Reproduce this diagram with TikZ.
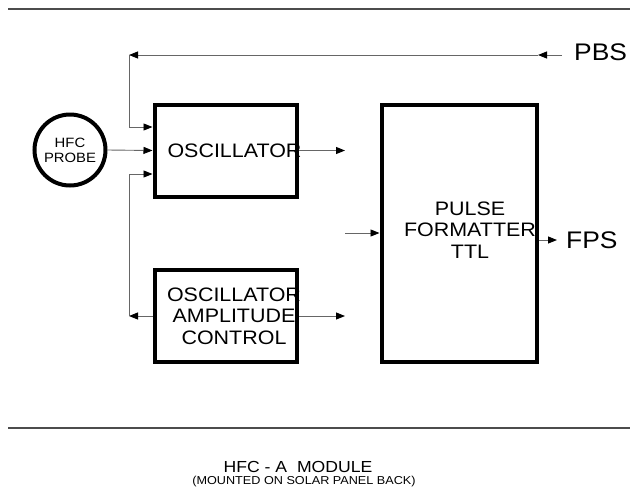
\documentclass[tikz,border=0pt]{standalone}
\usepackage{fontspec}
\setmainfont{Liberation Sans}[FakeStretch=1.1]
\usetikzlibrary{arrows.meta,positioning}
\tikzset{
    hfc diagram/.style = {x=1pt, y=-1pt,
                          >={Triangle[length=9pt,width=7pt,color=black]}},
    line/.style        = {line width=0.9pt, draw=black!60},
    block/.style       = {draw, line width=4pt},
    obox/.style        = {block, minimum width=142pt, minimum height=92pt},
    probe/.style       = {draw, circle, line width=4pt, minimum size=71pt,
                          inner sep=0pt, align=center,
                          font=\fontsize{13.5}{15}\selectfont},
    boxtext/.style     = {align=center, font=\fontsize{19.5}{21.5}\selectfont},
    sig/.style         = {anchor=west, font=\fontsize{24}{24}\selectfont},
    rule/.style        = {line width=1.3pt, draw=black!70}
}

\begin{document}
\begin{tikzpicture}[hfc diagram]
\useasboundingbox (0,0) rectangle (630,499);

% Frame rules.
\draw[rule] (8,9) -- (630,9);
\draw[rule] (8,428) -- (630,428);

% Blocks.
\node[probe] (probe) at (70,150) {HFC\\PROBE};
\node[obox, label={[boxtext, xshift=9pt]center:OSCILLATOR}]
    (osc) at (225.5,150.5) {};
\node[obox, label={[boxtext, xshift=8pt]center:OSCILLATOR\\AMPLITUDE\\CONTROL}]
    (amp) at (226,316) {};
\node[block, minimum width=155pt, minimum height=257pt,
    label={[boxtext, xshift=11pt, yshift=3pt]center:PULSE\\FORMATTER\\TTL}]
    (pulse) at (459,233) {};

% Signals.
\node[sig, inner xsep=12pt] (pbs) at (562,52) {PBS};
\node[sig, inner xsep=9pt] (fps) at (557,240) {FPS};

\coordinate (pbstip) at (538,55);
\coordinate (bus) at (129,55);
\coordinate (ampleft) at (129,316);
\coordinate (oscout) at (345,150.5);
\coordinate (ampout) at (345,316);
\coordinate (pulsein) at (345,233);

% PBS bus down to the oscillator.
\draw[line, ->] (pbs.west |- pbstip) -- (pbstip);
\draw[line, ->] (pbstip) -- (bus);
\draw[line, ->] (bus) |- ([yshift=23.5pt]osc.west);
\draw[line, ->] (probe.east) -- (osc.west);

% Amplitude control loop.
\draw[line, ->] (amp.west) -- (ampleft);
\draw[line, ->] (ampleft) |- ([yshift=-23.5pt]osc.west);

% Outputs.
\draw[line, ->] (osc.east) -- (oscout);
\draw[line, ->] (amp.east) -- (ampout);
\draw[line, ->] (pulsein) -- (pulse.west);
\draw[line, ->] (pulse.east |- fps.west) -- (fps.west);

% Caption.
\node[font=\fontsize{16}{16}\selectfont] (title) at (298,467)
    {HFC - A\ \ MODULE};
\node[font=\fontsize{11.5}{12}\selectfont] (place) at (304,482)
    {(MOUNTED ON SOLAR PANEL BACK)};

\end{tikzpicture}
\end{document}
